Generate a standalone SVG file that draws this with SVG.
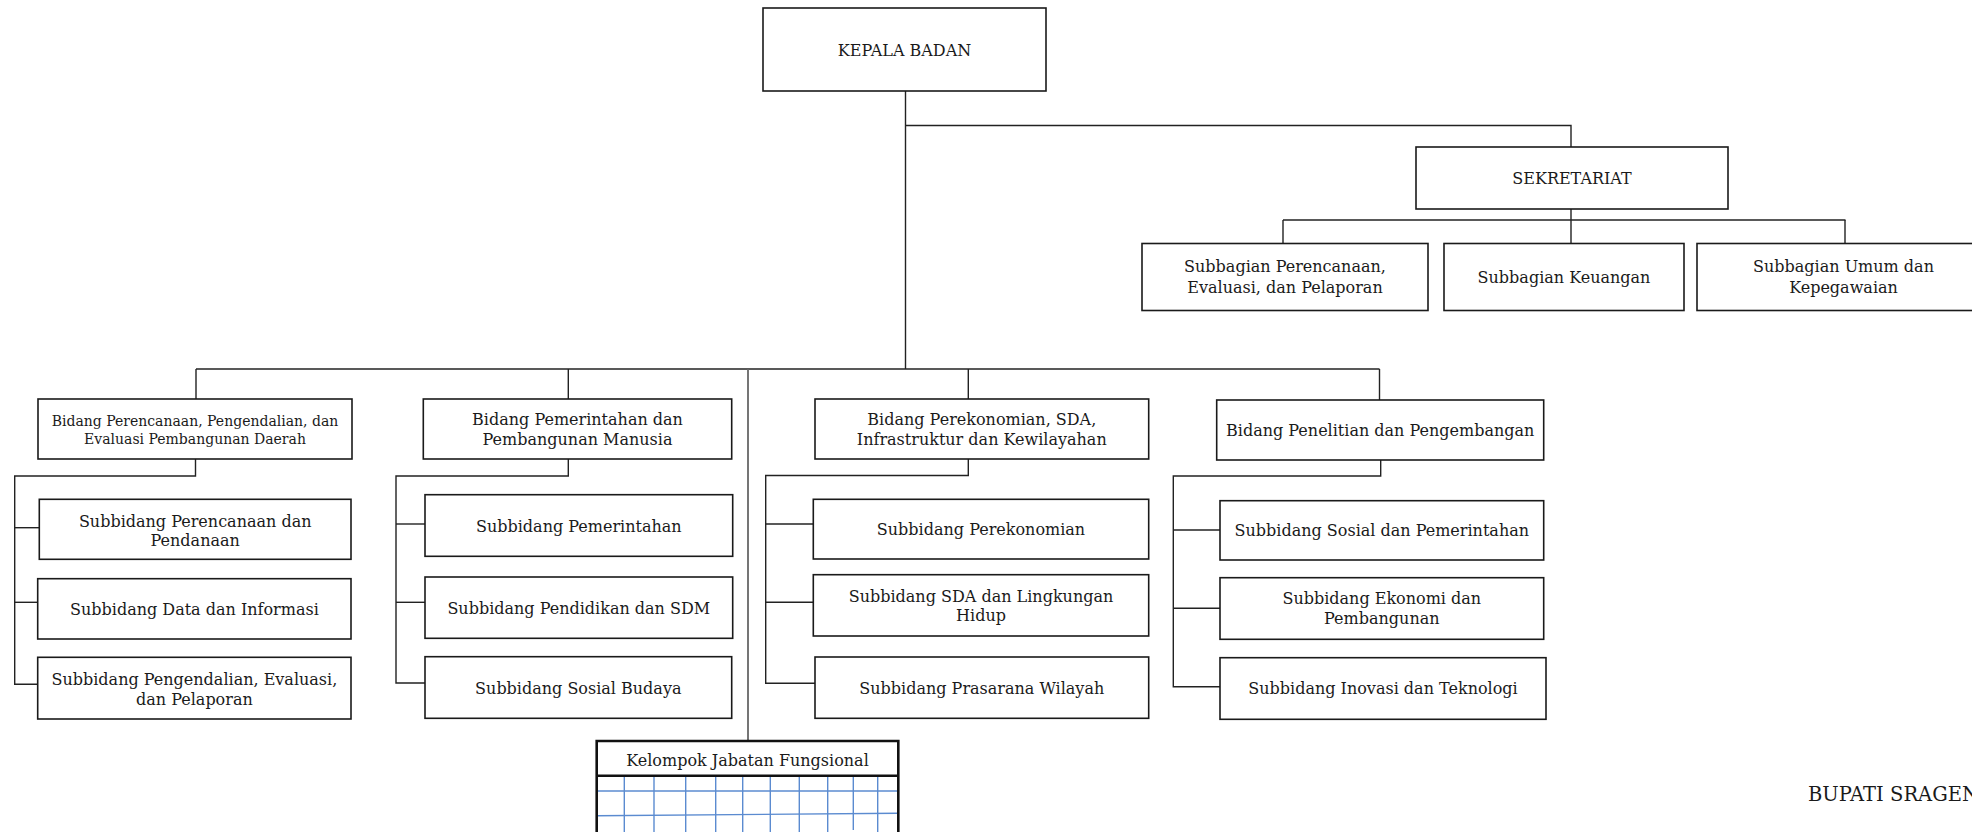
<svg xmlns="http://www.w3.org/2000/svg" width="1972" height="832" viewBox="0 0 1972 832">
<style>
  .box { fill: #ffffff; stroke: #1a1a1a; stroke-width: 1.6; }
  .ln { fill: none; stroke: #222; stroke-width: 1.4; }
  .gl { fill: none; stroke: #666; stroke-width: 1.8; }
  .t { font-family: "DejaVu Serif", "Liberation Serif", serif; font-size: 16px; fill: #1a1a1a; text-anchor: middle; }
  .ts { font-size: 14px; }
  .grid { fill: none; stroke: #5b8bd0; stroke-width: 1.4; }
  .kel { fill: none; stroke: #111; stroke-width: 2.6; }
</style>
<rect width="1972" height="832" fill="#ffffff"/>

<g id="connectors">
  <path class="ln" d="M905.5 91 V369"/>
  <path class="ln" d="M905.5 125.5 H1571 V147"/>
  <path class="ln" d="M1571 209 V243.5"/>
  <path class="ln" d="M1283 220 H1845.5"/>
  <path class="ln" d="M1283 220 V243.5"/>
  <path class="ln" d="M1845 220 V243.5"/>
  <path class="ln" d="M196 369 H1379.5"/>
  <path class="ln" d="M196 369 V399"/>
  <path class="ln" d="M568.3 369 V399"/>
  <path class="ln" d="M968.3 369 V399"/>
  <path class="ln" d="M1379.5 369 V400"/>
  <path class="gl" d="M748 369 V741"/>
  <path class="ln" d="M195.5 459 V476 H14.7 V684.3 H37.7"/>
  <path class="ln" d="M14.7 527.7 H39.3"/>
  <path class="ln" d="M14.7 602.3 H37.7"/>
  <path class="ln" d="M568.3 459 V476 H396 V683 H425"/>
  <path class="ln" d="M396 524 H425"/>
  <path class="ln" d="M396 602.3 H425"/>
  <path class="ln" d="M968.3 459 V475.5 H765.7 V683.3 H815"/>
  <path class="ln" d="M765.7 524 H813.3"/>
  <path class="ln" d="M765.7 602.3 H813.3"/>
  <path class="ln" d="M1380.7 460 V476 H1173.3 V686.7 H1220"/>
  <path class="ln" d="M1173.3 530 H1220"/>
  <path class="ln" d="M1173.3 608.3 H1220"/>
</g>

<g id="kepala-badan">
  <rect class="box" x="763" y="8" width="283" height="83"/>
  <text class="t" x="904.5" y="55.5">KEPALA BADAN</text>
</g>

<g id="sekretariat">
  <rect class="box" x="1416" y="147" width="312" height="62"/>
  <text class="t" x="1572" y="184">SEKRETARIAT</text>
</g>

<g id="subbagian-perencanaan">
  <rect class="box" x="1142" y="243.5" width="286" height="67"/>
  <text class="t" x="1285" y="272">Subbagian Perencanaan,</text>
  <text class="t" x="1285" y="292.5">Evaluasi, dan Pelaporan</text>
</g>

<g id="subbagian-keuangan">
  <rect class="box" x="1444" y="243.5" width="240" height="67"/>
  <text class="t" x="1564" y="282.5">Subbagian Keuangan</text>
</g>

<g id="subbagian-umum">
  <rect class="box" x="1697" y="243.5" width="294" height="67"/>
  <text class="t" x="1843.5" y="272">Subbagian Umum dan</text>
  <text class="t" x="1843.5" y="292.5">Kepegawaian</text>
</g>

<g id="bidang-perencanaan">
  <rect class="box" x="38" y="399" width="314" height="60"/>
  <text class="t ts" x="195" y="426">Bidang Perencanaan, Pengendalian, dan</text>
  <text class="t ts" x="195" y="443.5">Evaluasi Pembangunan Daerah</text>
</g>

<g id="subbidang-perencanaan-pendanaan">
  <rect class="box" x="39.3" y="499.3" width="311.7" height="60"/>
  <text class="t" x="195.2" y="526.5">Subbidang Perencanaan dan</text>
  <text class="t" x="195.2" y="546">Pendanaan</text>
</g>

<g id="subbidang-data-informasi">
  <rect class="box" x="37.7" y="578.7" width="313.3" height="60.3"/>
  <text class="t" x="194.4" y="615">Subbidang Data dan Informasi</text>
</g>

<g id="subbidang-pengendalian">
  <rect class="box" x="37.7" y="657.3" width="313.3" height="61.7"/>
  <text class="t" x="194.4" y="685">Subbidang Pengendalian, Evaluasi,</text>
  <text class="t" x="194.4" y="704.5">dan Pelaporan</text>
</g>

<g id="bidang-pemerintahan">
  <rect class="box" x="423.3" y="399" width="308.4" height="60"/>
  <text class="t" x="577.5" y="424.5">Bidang Pemerintahan dan</text>
  <text class="t" x="577.5" y="444.5">Pembangunan Manusia</text>
</g>

<g id="subbidang-pemerintahan">
  <rect class="box" x="425" y="494.7" width="307.7" height="61.6"/>
  <text class="t" x="578.8" y="531.5">Subbidang Pemerintahan</text>
</g>

<g id="subbidang-pendidikan">
  <rect class="box" x="425" y="577" width="307.7" height="61.3"/>
  <text class="t" x="578.8" y="613.5">Subbidang Pendidikan dan SDM</text>
</g>

<g id="subbidang-sosial-budaya">
  <rect class="box" x="425" y="656.7" width="306.7" height="61.6"/>
  <text class="t" x="578.3" y="693.5">Subbidang Sosial Budaya</text>
</g>

<g id="bidang-perekonomian">
  <rect class="box" x="815" y="399" width="333.7" height="60"/>
  <text class="t" x="981.8" y="425">Bidang Perekonomian, SDA,</text>
  <text class="t" x="981.8" y="444.5">Infrastruktur dan Kewilayahan</text>
</g>

<g id="subbidang-perekonomian">
  <rect class="box" x="813.3" y="499.3" width="335.4" height="59.7"/>
  <text class="t" x="981" y="535">Subbidang Perekonomian</text>
</g>

<g id="subbidang-sda">
  <rect class="box" x="813.3" y="574.7" width="335.4" height="61.3"/>
  <text class="t" x="981" y="601.5">Subbidang SDA dan Lingkungan</text>
  <text class="t" x="981" y="621">Hidup</text>
</g>

<g id="subbidang-prasarana">
  <rect class="box" x="815" y="657" width="333.7" height="61.3"/>
  <text class="t" x="981.8" y="693.5">Subbidang Prasarana Wilayah</text>
</g>

<g id="bidang-penelitian">
  <rect class="box" x="1216.7" y="400" width="327" height="60"/>
  <text class="t" x="1380.2" y="436">Bidang Penelitian dan Pengembangan</text>
</g>

<g id="subbidang-sosial-pemerintahan">
  <rect class="box" x="1220" y="500.7" width="323.7" height="59.3"/>
  <text class="t" x="1381.8" y="536">Subbidang Sosial dan Pemerintahan</text>
</g>

<g id="subbidang-ekonomi">
  <rect class="box" x="1220" y="577.7" width="323.7" height="61.6"/>
  <text class="t" x="1381.8" y="604">Subbidang Ekonomi dan</text>
  <text class="t" x="1381.8" y="623.5">Pembangunan</text>
</g>

<g id="subbidang-inovasi">
  <rect class="box" x="1220" y="657.7" width="326" height="61.6"/>
  <text class="t" x="1383" y="694">Subbidang Inovasi dan Teknologi</text>
</g>

<g id="kelompok-jabatan-fungsional">
  <rect x="596.7" y="741" width="301.6" height="34.7" fill="#ffffff"/>
  <g class="grid">
    <path d="M597 791 H898"/>
    <path d="M597 815.7 L898 813.3"/>
    <path d="M624.3 776 V832"/>
    <path d="M654 776 V832"/>
    <path d="M685.7 776 V832"/>
    <path d="M715.7 776 V832"/>
    <path d="M742.7 776 V832"/>
    <path d="M770.3 776 V832"/>
    <path d="M799.3 776 V832"/>
    <path d="M827.7 776 V832"/>
    <path d="M853.3 776 V830"/>
    <path d="M877.7 776 V832"/>
  </g>
  <path class="kel" d="M596.7 834 V741 H898.3 V834 M596.7 775.7 H898.3"/>
  <text class="t" x="747.5" y="765.5">Kelompok Jabatan Fungsional</text>
</g>

<g id="bupati-sragen">
  <text x="1808" y="800.5" style="font-family: 'DejaVu Serif', 'Liberation Serif', serif; font-size: 19.5px; fill: #1a1a1a;">BUPATI SRAGEN</text>
</g>
</svg>
